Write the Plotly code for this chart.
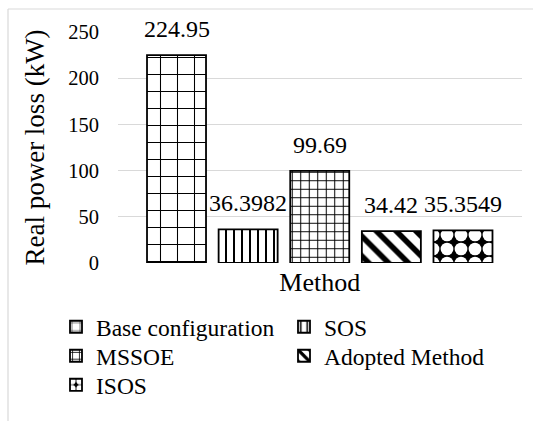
import plotly.graph_objects as go

# Data
category = "Method"
methods = ["Base configuration", "SOS", "MSSOE", "Adopted Method", "ISOS"]
losses = [224.95, 36.3982, 99.69, 34.42, 35.3549]
y_ticks = [0, 50, 100, 150, 200, 250]

# Fill pattern per method: (shape, fg, bg, size, solidity)
patterns = [
    ("+", "black", "white", 17, 0.12),
    ("|", "black", "white", 8, 0.25),
    ("+", "black", "white", 8.5, 0.22),
    ("\\", "black", "white", 14, 0.4),
    (".", "white", "black", 14, 0.65),
]

FONT = "Liberation Serif, Times New Roman, serif"

W, H = 533, 421
L, R, T, B = 118, 11, 32, 158
pw, ph = W - L - R, H - T - B


def px_x(p):
    return (p - L) / pw


def px_y(p):
    return (H - B - p) / ph


# legend slots (column text start x, row centre y) in pixels, 2 columns
legend_cols = [56, 284]
legend_rows = [327, 356, 385]

fig = go.Figure()
annotations = []
legends = {}
for i, (name, val, (shape, fg, bg, size, sol)) in enumerate(zip(methods, losses, patterns)):
    key = "legend" if i == 0 else f"legend{i + 1}"
    fig.add_trace(go.Bar(
        x=[i], y=[val], name=name, width=0.824,
        legend=key,
        marker=dict(
            color=bg,
            line=dict(color="black", width=1.8),
            pattern=dict(shape=shape, fgcolor=fg, bgcolor=bg, size=size,
                         solidity=sol, fillmode="replace"),
        ),
    ))
    annotations.append(dict(
        x=i, y=val, xref="x", yref="y", text=f"{val:g}",
        showarrow=False, yanchor="bottom", yshift=11,
        font=dict(family=FONT, size=24, color="black"),
    ))
    legends[key] = dict(
        x=px_x(legend_cols[i % 2]), y=px_y(legend_rows[i // 2]),
        xanchor="left", yanchor="middle",
        font=dict(family=FONT, size=23.5, color="black"),
        bgcolor="rgba(0,0,0,0)",
    )

fig.update_layout(
    width=W, height=H,
    margin=dict(l=L, r=R, t=T, b=B, autoexpand=False),
    paper_bgcolor="white", plot_bgcolor="white",
    barmode="overlay",
    font=dict(family=FONT, color="black"),
    showlegend=True,
    annotations=annotations,
    shapes=[
        dict(type="line", xref="paper", yref="paper",
             x0=px_x(8), x1=px_x(545), y0=px_y(9), y1=px_y(9),
             line=dict(color="#d9d9d9", width=1.2)),
        dict(type="line", xref="paper", yref="paper",
             x0=px_x(8), x1=px_x(8), y0=px_y(9), y1=px_y(430),
             line=dict(color="#d9d9d9", width=1.2)),
    ],
    **legends,
)

fig.update_yaxes(
    range=[0, 250], tickvals=y_ticks,
    showgrid=True, gridcolor="#d9d9d9", gridwidth=1,
    zeroline=False, showline=False,
    tickfont=dict(family=FONT, size=20.5, color="black"),
    ticklabelstandoff=18,
    title=dict(text="Real power loss (kW)", standoff=15,
               font=dict(family=FONT, size=27, color="black")),
)
fig.update_xaxes(
    range=[-0.817, 4.824],
    tickvals=[(len(methods) - 1) / 2], ticktext=[category],
    showline=False, showgrid=False, zeroline=False,
    tickfont=dict(family=FONT, size=26, color="black"),
    ticklabelstandoff=1,
)

fig.write_html("out.html")
